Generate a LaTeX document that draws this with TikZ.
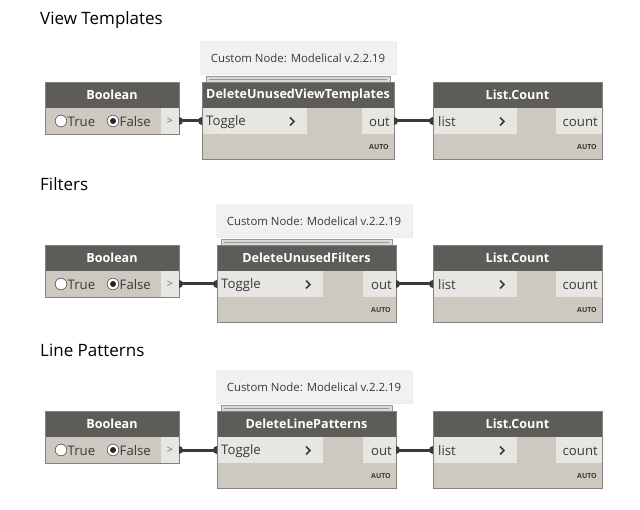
\documentclass[tikz,border=0pt]{standalone}
\usepackage{fontspec}
\setmainfont{Open Sans}
\definecolor{hdr}{HTML}{5E5C59}
\definecolor{bodyc}{HTML}{CDC9C1}
\definecolor{portc}{HTML}{E7E6E3}
\definecolor{edgec}{HTML}{85827D}
\definecolor{tipc}{HTML}{F1F1F1}
\definecolor{wirec}{HTML}{3A3A3A}
\definecolor{txtc}{HTML}{3A3A3A}
\tikzset{
  hdrtext/.style={text=white, font=\bfseries\fontsize{12.6}{12.6}\selectfont, inner sep=0},
  porttext/.style={text=txtc, font=\fontsize{13.2}{13.2}\selectfont, inner sep=0},
  autotext/.style={text=txtc, font=\bfseries\fontsize{7}{7}\selectfont, inner sep=0, anchor=east},
  frame/.style={draw=edgec, line width=0.9pt, inner sep=0, outer sep=0, anchor=north west},
  pnode/.style={inner sep=0, outer sep=0, anchor=north west},
  titletext/.style={text=black, font=\fontsize{17}{17}\selectfont, inner sep=0, anchor=west},
  tiptext/.style={text=txtc, font=\fontsize{11.4}{11.4}\selectfont, inner sep=0},
  wire/.style={draw=wirec, line width=3pt},
  chev/.style={draw=txtc, line width=1.7pt},
}
% #1 id, #2 header top y, #3 mid left, #4 mid right, #5 toggle right, #6 out left, #7 name, #8 tooltip left
\newcommand\dynrow[8]{%
  % ---------- Boolean ----------
  \fill[bodyc] (45,#2) rectangle (179,#2+52);
  \fill[portc] (161,#2+26) rectangle (179,#2+52);
  \fill[hdr] (45,#2) rectangle (179,#2+26);
  \node[frame, minimum width=134pt, minimum height=52pt] (bool#1) at (45,#2) {};
  \node[hdrtext] (booltitle#1) at (112,#2+13) {Boolean};
  \filldraw[fill=white, draw=gray!70!black, line width=0.6pt] (61,#2+39) circle (5.8);
  \node[porttext, anchor=west] (true#1) at (67.5,#2+40) {True};
  \filldraw[fill=white, draw=gray!70!black, line width=0.6pt] (113,#2+39) circle (5.8);
  \fill[black!85] (113,#2+39) circle (3);
  \node[porttext, anchor=west] (false#1) at (119.5,#2+40) {False};
  \node[pnode, minimum width=18pt, minimum height=26pt, text=gray!80!black, font=\fontsize{10.5}{10.5}\selectfont] (boolout#1) at (161,#2+26) {>};
  % ---------- tooltip ----------
  \fill[black!8] (#8+1,#2-40) rectangle (#8+197,#2-7);
  \fill[tipc] (#8,#2-41) rectangle (#8+196,#2-8);
  \node[tiptext] (tip#1) at (#8+98,#2-24) {Custom Node: Modelical v.2.2.19};
  \filldraw[fill=black!15, draw=black!40, line width=0.6pt] (#3+4,#2-6) rectangle (#4-4,#2);
  \draw[black!40, line width=0.6pt] (#3+7,#2-3) -- (#4-7,#2-3);
  % ---------- middle node ----------
  \fill[bodyc] (#3,#2) rectangle (#4,#2+77);
  \fill[hdr] (#3,#2) rectangle (#4,#2+26);
  \node[pnode, fill=portc, minimum width=#5pt-#3pt, minimum height=26pt] (toggle#1) at (#3,#2+26) {};
  \node[pnode, fill=portc, minimum width=#4pt-#6pt, minimum height=26pt] (out#1) at (#6,#2+26) {};
  \node[frame, minimum width=#4pt-#3pt, minimum height=77pt] (mid#1) at (#3,#2) {};
  \node[hdrtext] (midtitle#1) at ({(#3+#4)/2},#2+13) {#7};
  \node[porttext, anchor=west] (toggletext#1) at (#3+4,#2+40) {Toggle};
  \draw[chev] (#5-17,#2+35.5) -- (#5-13,#2+39.5) -- (#5-17,#2+43.5);
  \node[porttext, anchor=east] (outtext#1) at (#4-4,#2+40) {out};
  \node[autotext] (auto#1) at (#4-5,#2+65) {AUTO};
  % ---------- List.Count ----------
  \fill[bodyc] (433,#2) rectangle (602,#2+77);
  \fill[hdr] (433,#2) rectangle (602,#2+26);
  \node[pnode, fill=portc, minimum width=84pt, minimum height=26pt] (list#1) at (433,#2+26) {};
  \node[pnode, fill=portc, minimum width=46pt, minimum height=26pt] (count#1) at (556,#2+26) {};
  \node[frame, minimum width=169pt, minimum height=77pt] (lc#1) at (433,#2) {};
  \node[hdrtext] (lctitle#1) at (517.5,#2+13) {List.Count};
  \node[porttext, anchor=west] (listtext#1) at (438,#2+40) {list};
  \draw[chev] (517-17,#2+35.5) -- (517-13,#2+39.5) -- (517-17,#2+43.5);
  \node[porttext, anchor=east] (counttext#1) at (598,#2+40) {count};
  \node[autotext] (lcauto#1) at (597,#2+65) {AUTO};
  % ---------- wires ----------
  \draw[wire] (boolout#1.east) -- (toggle#1.west);
  \fill[wirec] (boolout#1.east) ++(0,-4) arc[start angle=-90, end angle=90, radius=4] -- cycle;
  \fill[wirec] (toggle#1.west) ++(0,-4) arc[start angle=-90, end angle=-270, radius=4] -- cycle;
  \draw[wire] (out#1.east) -- (list#1.west);
  \fill[wirec] (out#1.east) ++(0,-4) arc[start angle=-90, end angle=90, radius=4] -- cycle;
  \fill[wirec] (list#1.west) ++(0,-4) arc[start angle=-90, end angle=-270, radius=4] -- cycle;
}
\begin{document}
\begin{tikzpicture}[x=1pt, y=-1pt]
  \useasboundingbox[fill=white] (0,0) rectangle (640,510);
  \node[titletext] (t1) at (40,20) {View Templates};
  \node[titletext] (t2) at (40,184) {Filters};
  \node[titletext] (t3) at (40,350) {Line Patterns};
  \dynrow{a}{82}{202}{394}{307}{362}{DeleteUnusedViewTemplates}{200}
  \dynrow{b}{245}{217}{396}{323}{363}{DeleteUnusedFilters}{216}
  \dynrow{c}{411}{217}{396}{323}{363}{DeleteLinePatterns}{216}
\end{tikzpicture}
\end{document}
